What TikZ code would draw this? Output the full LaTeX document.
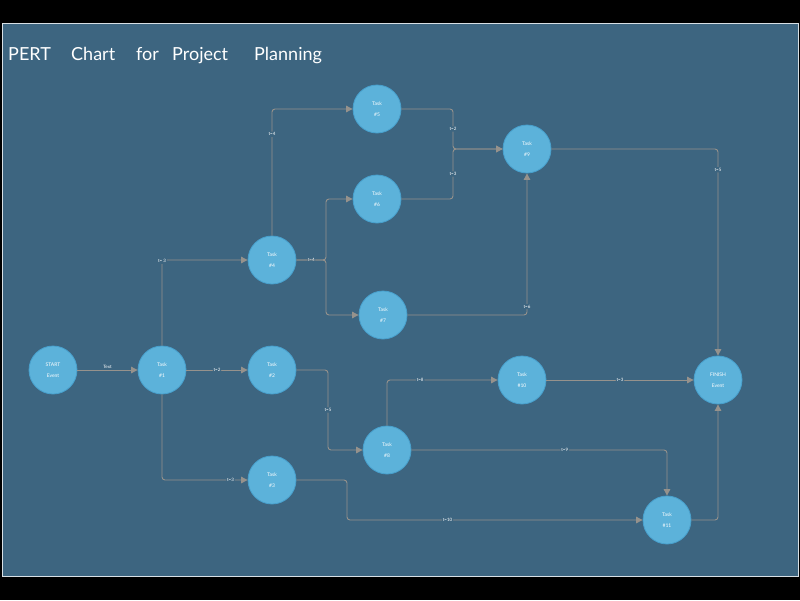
\documentclass[tikz,border=0pt]{standalone}
\usepackage{fontspec}
\setmainfont{Lato}
\usetikzlibrary{arrows.meta}
\definecolor{bgteal}{RGB}{61,101,128}
\definecolor{nodefill}{RGB}{92,178,218}
\definecolor{nodeedge}{RGB}{72,160,205}
\definecolor{linegray}{RGB}{150,146,140}
\tikzset{
  task/.style={circle,fill=nodefill,draw=nodeedge,line width=0.8pt,minimum size=48pt,inner sep=0pt,
    font=\fontsize{5}{11}\selectfont,text=white,align=center},
  conn/.style={draw=linegray,line width=0.9pt,rounded corners=3pt,-{Triangle[length=6.5pt,width=6.5pt]}},
  elab/.style={font=\fontsize{4.5}{5}\selectfont,text=white,fill=bgteal,inner sep=1pt},
  ttl/.style={font=\fontsize{18}{20}\selectfont,text=white,anchor=base west,inner sep=0pt}
}
\begin{document}
\begin{tikzpicture}[x=1pt,y=-1pt]
\useasboundingbox (0,0) rectangle (800,600);
\fill[black] (0,0) rectangle (800,600);
\fill[bgteal] (2,23) rectangle (798,576);
\draw[white!80!bgteal,line width=0.6pt] (2,23) rectangle (798,576);
\node[ttl] (t1) at (8,60) {PERT};
\node[ttl] (t2) at (71,60) {Chart};
\node[ttl] (t3) at (136,60) {for};
\node[ttl] (t4) at (172,60) {Project};
\node[ttl] (t5) at (254,60) {Planning};

\node[task] (start) at (53,370) {START\\Event};
\node[task] (n1) at (162,370) {Task\\\#1};
\node[task] (n4) at (272,260) {Task\\\#4};
\node[task] (n5) at (377,109) {Task\\\#5};
\node[task] (n6) at (377,199) {Task\\\#6};
\node[task] (n7) at (383,315) {Task\\\#7};
\node[task] (n9) at (527,149) {Task\\\#9};
\node[task] (n2) at (272,370) {Task\\\#2};
\node[task] (n3) at (272,480) {Task\\\#3};
\node[task] (n8) at (387,450) {Task\\\#8};
\node[task] (n10) at (522,380) {Task\\\#10};
\node[task] (n11) at (667,520) {Task\\\#11};
\node[task] (fin) at (718,380) {FINISH\\Event};

\draw[conn] (start) -- node[elab,fill=none,above=0pt] {Text} (n1);
\draw[conn] (n1.north) -- (162,260) -- (n4.west);
\node[elab] at (162,261) {t= 3};
\draw[conn] (n1) -- node[elab] {t=2} (n2);
\draw[conn] (n1.south) -- (162,480) -- node[elab,pos=0.8] {t=3} (n3.west);
\draw[conn] (n4.north) -- node[elab,pos=0.8] {t=4} (272,109) -- (n5.west);
\draw[conn] (n4.east) -- node[elab,pos=0.5] {t=4} (326,260) -- (326,199) -- (n6.west);
\draw[conn] (n4.east) -- (326,260) -- (326,315) -- (n7.west);
\draw[conn] (n5.east) -- (453,109) -- node[elab] {t=2} (453,149) -- (n9.west);
\draw[conn] (n6.east) -- (453,199) -- node[elab] {t=3} (453,149) -- (n9.west);
\draw[conn] (n7.east) -- (527,315) -- node[elab,pos=0.06] {t=6} (n9.south);
\draw[conn] (n9.east) -- (718,149) -- node[elab,pos=0.1] {t=5} (fin.north);
\draw[conn] (n2.east) -- (328,370) -- node[elab] {t=5} (328,450) -- (n8.west);
\draw[conn] (n8.north) -- (387,380) -- node[elab,pos=0.3] {t=8} (n10.west);
\draw[conn] (n10) -- node[elab] {t=3} (fin);
\draw[conn] (n8.east) -- node[elab,pos=0.6] {t=9} (667,450) -- (n11.north);
\draw[conn] (n3.east) -- (347,480) -- (347,520) -- node[elab,pos=0.34] {t=10} (n11.west);
\draw[conn] (n11.east) -- (718,520) -- (fin.south);
\end{tikzpicture}
\end{document}
